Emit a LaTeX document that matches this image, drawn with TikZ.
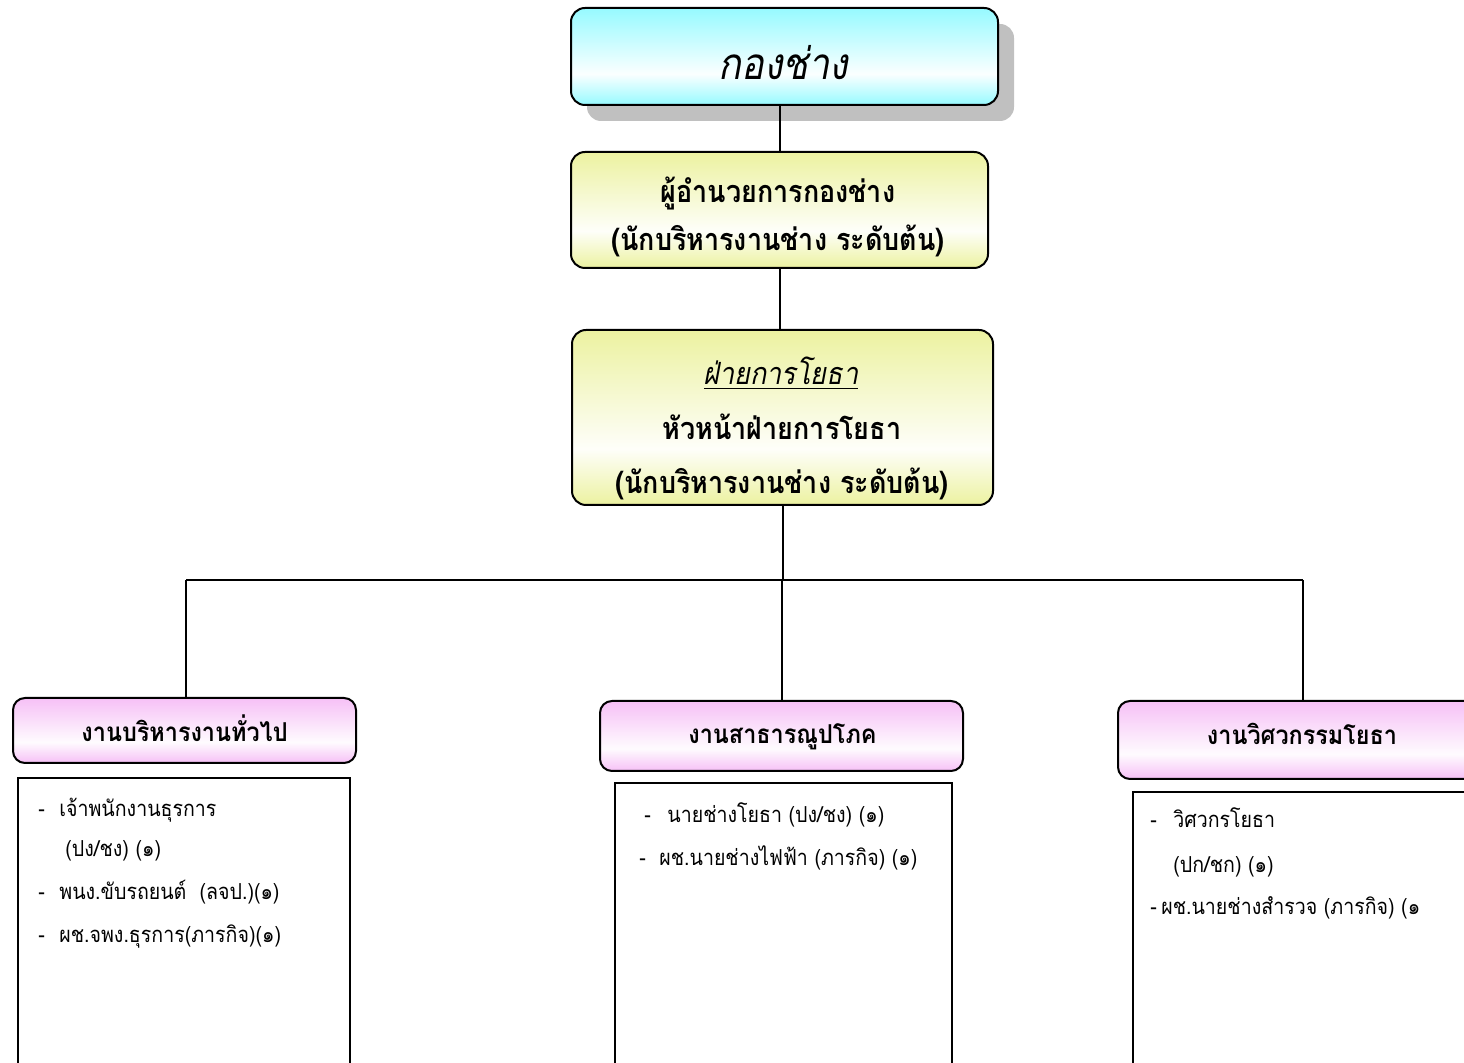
\documentclass[tikz,border=0pt]{standalone}
\usepackage{fontspec}
\newfontfamily\thaiT[Script=Thai, FakeStretch=0.86]{Loma}
\newfontfamily\thaiB[Script=Thai, FakeStretch=0.88]{Loma}
\newfontfamily\thaiH[Script=Thai, FakeStretch=0.9]{Loma}
\newfontfamily\thaiN[Script=Thai, FakeStretch=0.89]{Loma}
\usetikzlibrary{calc,shadows}
\definecolor{cy}{RGB}{150,250,255}
\definecolor{yl}{RGB}{236,242,160}
\definecolor{pk}{RGB}{246,192,246}
\definecolor{shd}{RGB}{192,192,192}
\pgfdeclareverticalshading{cyshade}{100bp}{color(0bp)=(cy); color(25bp)=(cy); color(41bp)=(white!96!cy); color(75bp)=(cy); color(100bp)=(cy)}
\pgfdeclareverticalshading{ylshade}{100bp}{color(0bp)=(yl); color(25bp)=(yl); color(41bp)=(white!94!yl); color(75bp)=(yl); color(100bp)=(yl)}
\pgfdeclareverticalshading{pkshade}{100bp}{color(0bp)=(pk); color(25bp)=(pk); color(41bp)=(white!94!pk); color(75bp)=(pk); color(100bp)=(pk)}
\begin{document}
\begin{tikzpicture}[x=0.5pt,y=-0.5pt,
  rbox/.style={draw=black, line width=1pt, rounded corners=7pt, inner sep=0pt},
  hbox/.style={draw=black, line width=1pt, rounded corners=6pt, inner sep=0pt, shading=pkshade},
  cbox/.style={draw=black, line width=1pt, inner sep=0pt},
  conn/.style={draw=black, line width=1pt},
  ttl/.style={font=\thaiT\itshape\fontsize{22}{26}\selectfont, anchor=base, inner sep=0pt},
  bt/.style={font=\thaiB\bfseries\fontsize{15.3}{18}\selectfont, anchor=base, inner sep=0pt},
  ht/.style={font=\thaiH\bfseries\fontsize{13}{16}\selectfont, anchor=base, inner sep=0pt},
  it/.style={font=\thaiN\fontsize{11}{14}\selectfont, anchor=base west, inner sep=0pt}]
\useasboundingbox (0,0) rectangle (1464,1063);
\clip (0,0) rectangle (1464,1063);
\fill[white] (0,0) rectangle (1464,1063);

% top
\node[rbox, shading=cyshade, minimum width=213.5pt, minimum height=48.5pt,
  general shadow={fill=shd, shadow xshift=8pt, shadow yshift=-8pt}] (top) at (784.5,56.5) {};
\node[ttl] (toptxt) at (783.5,80) {กองช่าง};

% director
\node[rbox, shading=ylshade, minimum width=208.5pt, minimum height=58pt] (dir) at (779.5,210) {};
\node[bt] (dir1) at (778,203) {ผู้อำนวยการกองช่าง};
\node[bt] (dir2) at (778,251) {(นักบริหารงานช่าง ระดับต้น)};

% office
\node[rbox, shading=ylshade, minimum width=210.5pt, minimum height=87.5pt] (ofc) at (782.5,417.5) {};
\node[ttl, font=\thaiB\itshape\fontsize{15.3}{18}\selectfont] (ofc1) at (781,385) {\underline{ฝ่ายการโยธา}};
\node[bt] (ofc2) at (782,440) {หัวหน้าฝ่ายการโยธา};
\node[bt] (ofc3) at (782,494) {(นักบริหารงานช่าง ระดับต้น)};

% section headers
\node[hbox, minimum width=171.5pt, minimum height=32.5pt] (lh) at (184.5,730.5) {};
\node[ht] (lht) at (184.5,742) {งานบริหารงานทั่วไป};
\node[hbox, minimum width=181.5pt, minimum height=35pt] (ch) at (781.5,736) {};
\node[ht] (cht) at (782.5,744) {งานสาธารณูปโภค};
\node[hbox, minimum width=185pt, minimum height=39pt] (rh) at (1303,740) {};
\node[ht] (rht) at (1302,745) {งานวิศวกรรมโยธา};

% content boxes
\node[cbox, minimum width=166pt, minimum height=161pt] (lc) at (184,939) {};
\node[cbox, minimum width=168.5pt, minimum height=158.5pt] (cc) at (783.5,941.5) {};
\node[cbox, minimum width=170pt, minimum height=154pt] (rc) at (1303,946) {};

\node[it] (l1) at (38,817) {\makebox[10.5pt][l]{-}เจ้าพนักงานธุรการ};
\node[it] (l2) at (65,857) {(ปง/ชง) (๑)};
\node[it] (l3) at (38,900) {\makebox[10.5pt][l]{-}พนง.ขับรถยนต์\ \ (ลจป.)(๑)};
\node[it] (l4) at (38,943) {\makebox[10.5pt][l]{-}ผช.จพง.ธุรการ(ภารกิจ)(๑)};

\node[it] (c1) at (644,823) {\makebox[11.5pt][l]{-}นายช่างโยธา (ปง/ชง) (๑)};
\node[it] (c2) at (639,866) {\makebox[10pt][l]{-}ผช.นายช่างไฟฟ้า (ภารกิจ) (๑)};

\node[it] (r1) at (1150,828) {\makebox[11.5pt][l]{-}วิศวกรโยธา};
\node[it] (r2) at (1173,873) {(ปก/ชก) (๑)};
\node[it] (r3) at (1150,915) {\makebox[5.5pt][l]{-}ผช.นายช่างสำรวจ (ภารกิจ) (๑};

% connectors
\coordinate (busL) at (186,580);
\coordinate (busR) at (1303,580);
\draw[conn] (dir.north |- top.south) -- (dir.north);
\draw[conn] (dir.south) -- (dir.south |- ofc.north);
\draw[conn] (ofc.south) -- (ofc.south |- busL);
\draw[conn] (busL) -- (busR);
\draw[conn] (busL) -- (busL |- lh.north);
\draw[conn] (ch.north |- busL) -- (ch.north);
\draw[conn] (busR) -- (rh.north);
\end{tikzpicture}
\end{document}
